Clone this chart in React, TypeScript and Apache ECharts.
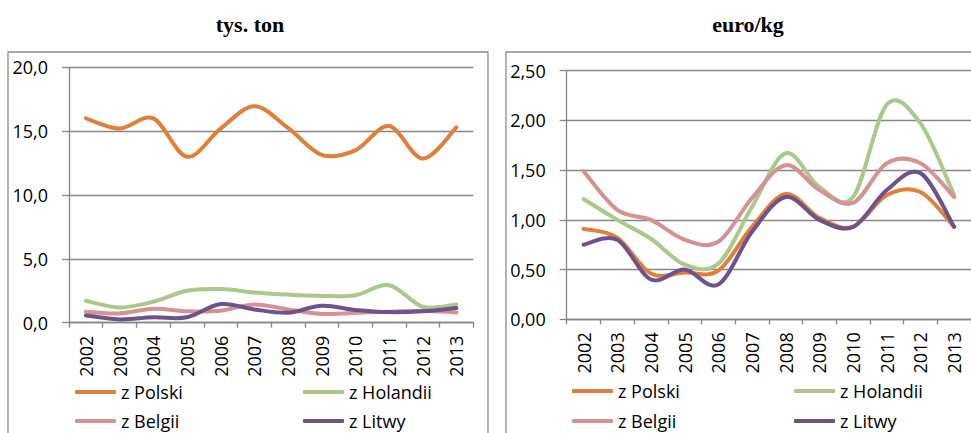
import React, { useEffect, useRef } from "react";
import * as echarts from "echarts";

const years = ["2002", "2003", "2004", "2005", "2006", "2007", "2008", "2009", "2010", "2011", "2012", "2013"];
const seriesNames = ["z Polski", "z Holandii", "z Belgii", "z Litwy"];
const colors = ["#E07F3A", "#AAC88C", "#D49292", "#6E528C"];

// tys. ton
const volPolski = [16.0, 15.2, 16.0, 13.0, 15.2, 16.95, 15.25, 13.15, 13.5, 15.4, 12.85, 15.3];
const volHolandii = [1.72, 1.2, 1.64, 2.5, 2.63, 2.37, 2.2, 2.1, 2.15, 2.94, 1.25, 1.43];
const volBelgii = [0.86, 0.73, 1.1, 0.9, 0.94, 1.43, 1.04, 0.68, 0.78, 0.86, 0.94, 0.8];
const volLitwy = [0.57, 0.26, 0.42, 0.42, 1.46, 1.04, 0.78, 1.33, 1.0, 0.83, 0.9, 1.15];

// euro/kg
const pricePolski = [0.91, 0.82, 0.46, 0.47, 0.49, 0.93, 1.26, 1.02, 0.93, 1.25, 1.28, 0.93];
const priceHolandii = [1.21, 1.0, 0.81, 0.55, 0.56, 1.13, 1.67, 1.33, 1.23, 2.16, 1.97, 1.25];
const priceBelgii = [1.49, 1.1, 1.0, 0.8, 0.78, 1.22, 1.55, 1.3, 1.17, 1.57, 1.57, 1.23];
const priceLitwy = [0.75, 0.8, 0.4, 0.5, 0.35, 0.88, 1.23, 1.0, 0.93, 1.3, 1.47, 0.93];

const FONT = "'Open Sans', 'Noto Sans', sans-serif";
const GRAY = "#868686";

// Excel-like smoothed line (Catmull-Rom, converted to cubic Bezier) through points mapped by the axes
function smoothPath(pts: number[][]): string {
  if (!pts.length) return "";
  let d = `M${pts[0][0]},${pts[0][1]}`;
  for (let i = 0; i < pts.length - 1; i++) {
    const p0 = pts[i - 1] || pts[i];
    const p1 = pts[i];
    const p2 = pts[i + 1];
    const p3 = pts[i + 2] || pts[i + 1];
    const c1x = p1[0] + (p2[0] - p0[0]) / 6;
    const c1y = p1[1] + (p2[1] - p0[1]) / 6;
    const c2x = p2[0] - (p3[0] - p1[0]) / 6;
    const c2y = p2[1] - (p3[1] - p1[1]) / 6;
    d += ` C${c1x},${c1y} ${c2x},${c2y} ${p2[0]},${p2[1]}`;
  }
  return d;
}

export default function App() {
  const ref = useRef<HTMLDivElement>(null);
  useEffect(() => {
    if (!ref.current) return;
    const chart = echarts.init(ref.current, undefined, { renderer: "svg" });
    const volData = [volPolski, volHolandii, volBelgii, volLitwy];
    const priceData = [pricePolski, priceHolandii, priceBelgii, priceLitwy];

    const xAxisBase = (gridIndex: number) => ({
      type: "category" as const,
      gridIndex,
      data: years,
      boundaryGap: true,
      axisLine: { lineStyle: { color: GRAY, width: 1.3 } },
      axisTick: { show: true, length: 5, lineStyle: { color: GRAY, width: 1.3 } },
      axisLabel: { rotate: 90, margin: 13, fontSize: 18, color: "#000", fontFamily: FONT, interval: 0 },
    });
    const yAxisBase = (gridIndex: number, max: number, interval: number, dec: number) => ({
      type: "value" as const,
      gridIndex,
      min: 0,
      max,
      interval,
      axisLine: { show: true, lineStyle: { color: GRAY, width: 1.3 } },
      axisTick: { show: true, length: 7, lineStyle: { color: GRAY, width: 1.3 } },
      splitLine: { show: true, lineStyle: { color: GRAY, width: 1.3 } },
      axisLabel: {
        margin: 21,
        fontSize: 18,
        color: "#000",
        fontFamily: FONT,
        formatter: (v: number) => v.toFixed(dec).replace(".", ","),
      },
    });

    const makeSeries = (name: string, values: number[], color: string, axisIndex: number) => ({
      type: "custom",
      name,
      xAxisIndex: axisIndex,
      yAxisIndex: axisIndex,
      data: values.map((v, i) => [i, v]),
      encode: { x: 0, y: 1 },
      itemStyle: { color },
      renderItem: (params: any, api: any) => {
        if (params.dataIndex !== 0) return null;
        const pts = values.map((v, i) => api.coord([i, v]));
        return {
          type: "path",
          shape: { pathData: smoothPath(pts) },
          style: { fill: "none", stroke: color, lineWidth: 4, lineCap: "round", lineJoin: "round" },
          silent: true,
        };
      },
    });

    const series: any[] = [];
    seriesNames.forEach((name, i) => series.push(makeSeries(name, volData[i], colors[i], 0)));
    seriesNames.forEach((name, i) => series.push(makeSeries(name, priceData[i], colors[i], 1)));

    const legendPos = [
      [75, 382],
      [303, 382],
      [75, 411],
      [303, 411],
      [572, 381],
      [794, 381],
      [572, 411],
      [794, 411],
    ];
    const legends = legendPos.map((p, k) => ({
      left: p[0],
      top: p[1],
      padding: 0,
      data: [seriesNames[k % 4]],
      icon: "roundRect",
      itemWidth: 41,
      itemHeight: 4,
      selectedMode: false,
      textStyle: { fontSize: 18, lineHeight: 20, color: "#000", fontFamily: FONT },
    }));

    chart.setOption({
      animation: false,
      backgroundColor: "#fff",
      title: [
        {
          text: "tys. ton",
          left: 245,
          top: 8,
          textAlign: "center",
          textStyle: { fontFamily: "'Liberation Serif', serif", fontWeight: "bold", fontSize: 22, color: "#000" },
        },
        {
          text: "euro/kg",
          left: 743,
          top: 8,
          textAlign: "center",
          textStyle: { fontFamily: "'Liberation Serif', serif", fontWeight: "bold", fontSize: 22, color: "#000" },
        },
      ],
      graphic: [
        { type: "rect", shape: { x: 8, y: 52, width: 480, height: 420 }, style: { fill: "none", stroke: "#8c8c8c", lineWidth: 1.3 }, silent: true },
        { type: "rect", shape: { x: 506, y: 52, width: 480, height: 420 }, style: { fill: "none", stroke: "#8c8c8c", lineWidth: 1.3 }, silent: true },
      ],
      legend: legends,
      grid: [
        { left: 69, top: 67.3, width: 404.3, height: 255.4, containLabel: false },
        { left: 566.7, top: 70.7, width: 408.8, height: 248.6, containLabel: false },
      ],
      xAxis: [xAxisBase(0), xAxisBase(1)],
      yAxis: [yAxisBase(0, 20, 5, 1), yAxisBase(1, 2.5, 0.5, 2)],
      series,
    });
    return () => chart.dispose();
  }, []);
  return (
    <div
      ref={ref}
      style={{ position: "fixed", left: 0, top: 0, width: 971, height: 433 }}
    />
  );
}
